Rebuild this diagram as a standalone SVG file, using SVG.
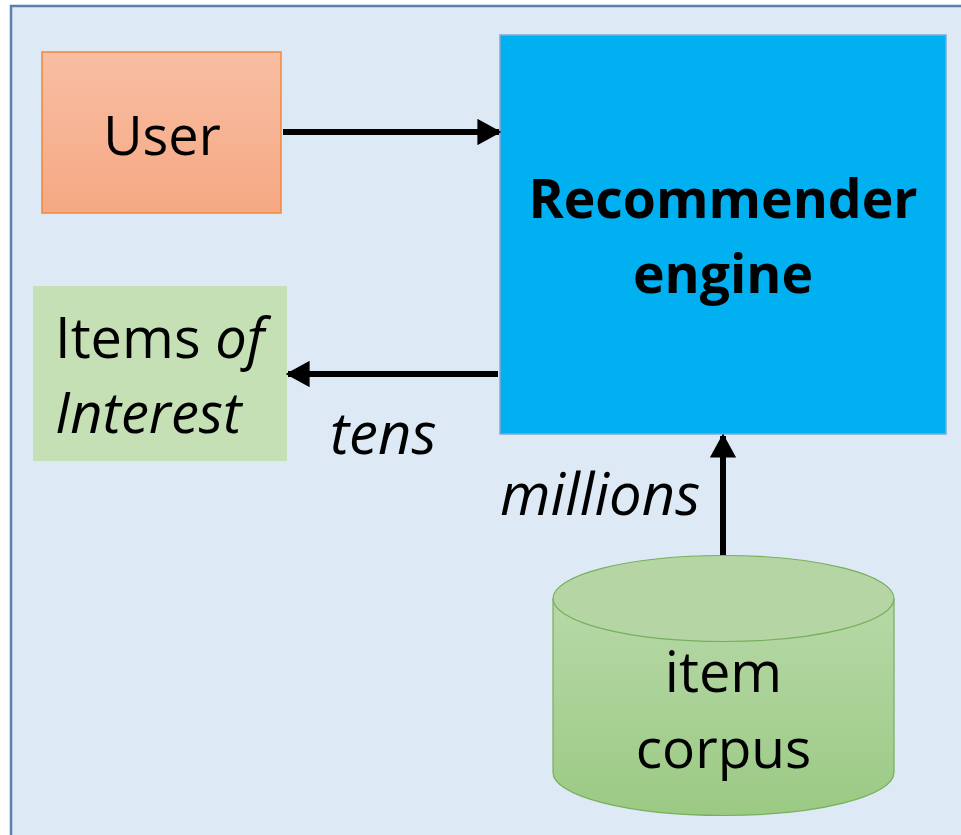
<svg xmlns="http://www.w3.org/2000/svg" width="961" height="835" viewBox="0 0 961 835">
<defs>
<linearGradient id="gUser" x1="0" y1="0" x2="0" y2="1"><stop offset="0" stop-color="#f8bea3"/><stop offset="1" stop-color="#f5a883"/></linearGradient>
<linearGradient id="gCyl" x1="0" y1="0" x2="0" y2="1"><stop offset="0" stop-color="#b7d8a7"/><stop offset="1" stop-color="#9bca84"/></linearGradient>
<marker id="ah" markerWidth="4" markerHeight="4.4" refX="3.6" refY="2.2" orient="auto" markerUnits="strokeWidth"><path d="M0,0 L4,2.2 L0,4.4 Z" fill="#000"/></marker>
<style>
text{font-family:"Open Sans","Noto Sans",sans-serif;fill:#000}
.conn{stroke:#000;stroke-width:6;fill:none;marker-end:url(#ah)}
.it{font-style:italic}
</style>
</defs>
<rect x="0" y="0" width="961" height="835" fill="#ffffff"/>
<rect x="11" y="6" width="960" height="840" fill="#dde9f5" stroke="#5a80ad" stroke-width="2.5"/>
<g id="user"><rect x="42" y="52" width="239" height="161" fill="url(#gUser)" stroke="#f0883a" stroke-width="1.5"/><text x="162" y="155" font-size="54" text-anchor="middle">User</text></g>
<g id="engine"><rect x="500" y="35" width="446" height="399" fill="#00b0f0" stroke="#7fa9d6" stroke-width="1.5"/><text x="723" y="218" font-size="53.5" font-weight="bold" text-anchor="middle">Recommender</text><text x="723" y="293" font-size="53.5" font-weight="bold" text-anchor="middle">engine</text></g>
<g id="items"><rect x="33" y="286" width="254" height="175" fill="#c5e0b4"/><text x="55" y="358" font-size="56">Items <tspan class="it">of</tspan></text><text x="55" y="433" font-size="56" class="it">Interest</text></g>
<g id="corpus"><path d="M553,598.5 L553,772.5 A170.5,43 0 0 0 894,772.5 L894,598.5" fill="url(#gCyl)" stroke="#76b05a" stroke-width="1.2"/><ellipse cx="723.5" cy="598.5" rx="170.5" ry="43" fill="#b5d6a4" stroke="#76b05a" stroke-width="1.2"/><text x="723.5" y="692" font-size="56" text-anchor="middle">item</text><text x="723.5" y="768" font-size="55" text-anchor="middle">corpus</text></g>
<g id="connectors">
<line class="conn" x1="283" y1="132" x2="499" y2="132"/>
<line class="conn" x1="498" y1="374" x2="288" y2="374"/>
<line class="conn" x1="723" y1="555" x2="723" y2="436"/>
</g>
<g id="labels"><text x="330" y="454" font-size="58" class="it">tens</text><text x="500" y="515" font-size="58" class="it">millions</text></g>
</svg>
